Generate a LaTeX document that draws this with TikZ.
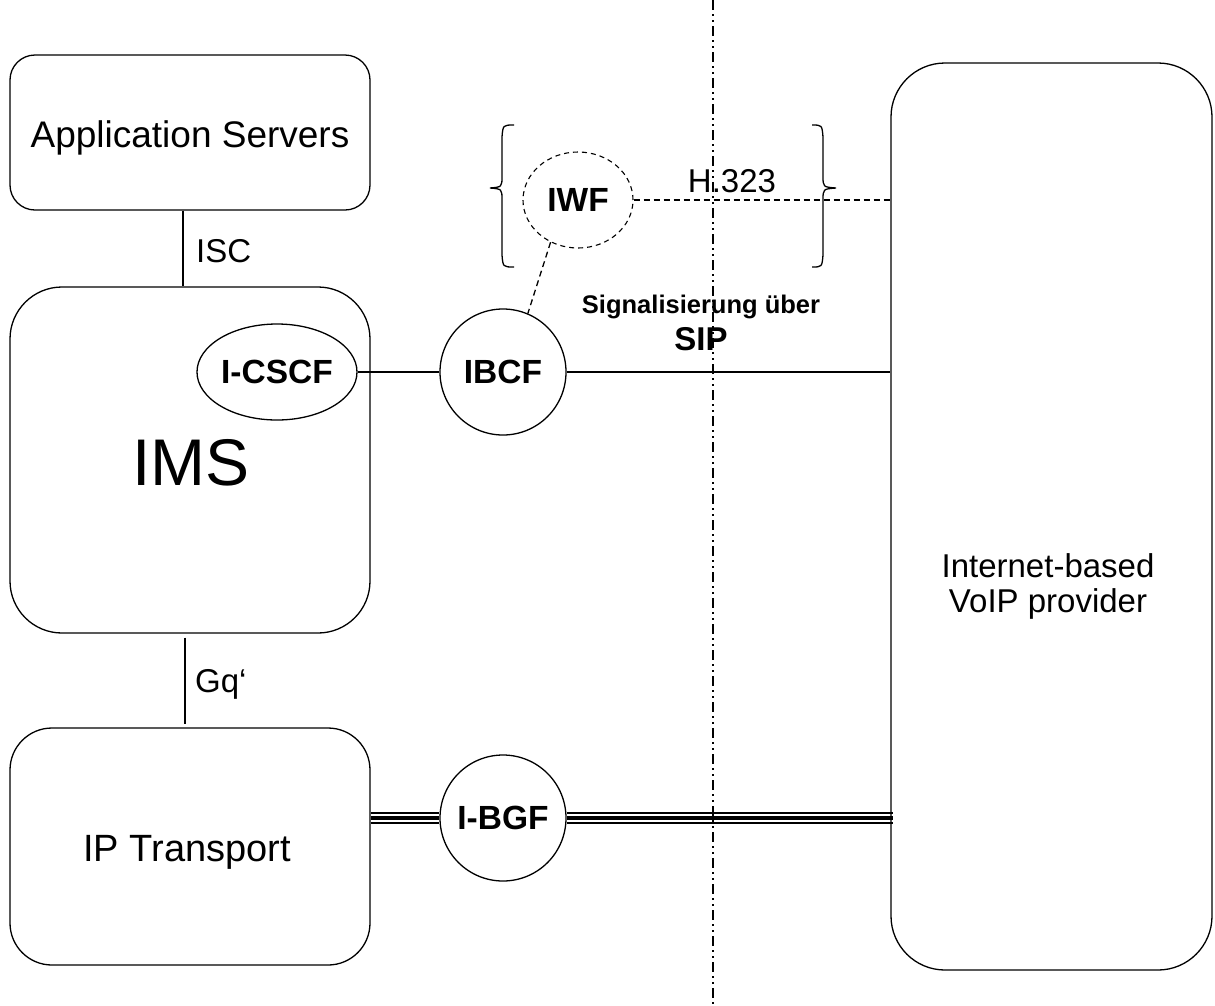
\documentclass[tikz,border=0pt]{standalone}
\usepackage{fontspec}
\setmainfont{Liberation Sans}
\usetikzlibrary{shapes.geometric,calc}
\begin{document}
\begin{tikzpicture}[x=1pt,y=-1pt,
  box/.style={draw,line width=1.3pt,rectangle,inner sep=0pt},
  circ/.style={draw,line width=1.3pt,circle,minimum size=126pt,inner sep=0pt},
  lbl/.style={font=\fontsize{33}{38}\selectfont,inner sep=0pt},
  blbl/.style={font=\fontsize{33.5}{38}\selectfont\bfseries,inner sep=0pt},
  conn/.style={line width=1.3pt},
  dconn/.style={line width=1.3pt,dash pattern=on 6pt off 4pt}]
\useasboundingbox (0,0) rectangle (1215,1005);
% boxes
\node[box,rounded corners=25pt,minimum width=360pt,minimum height=155pt] (as) at (190,132.5) {};
\node[box,rounded corners=52pt,minimum width=360pt,minimum height=346pt] (ims) at (190,460) {};
\node[box,rounded corners=42pt,minimum width=360pt,minimum height=237pt] (ipt) at (190,846.5) {};
\node[box,rounded corners=54pt,minimum width=321pt,minimum height=907pt] (voip) at (1051.5,516.5) {};
% box texts
\node[lbl,anchor=base,font=\fontsize{37}{40}\selectfont] (astxt) at (190,147) {Application Servers};
\node[lbl,anchor=base,font=\fontsize{66}{70}\selectfont] (imstxt) at (191,485) {IMS};
\node[lbl,anchor=base,font=\fontsize{38}{40}\selectfont] (ipttxt) at (187,861) {IP Transport};
\node[lbl,anchor=base,align=center] (voiptxt1) at (1048,577) {Internet-based};
\node[lbl,anchor=base,align=center] (voiptxt2) at (1048,612) {VoIP provider};
% function nodes
\node[draw,line width=1.3pt,ellipse,minimum width=160pt,minimum height=96pt,inner sep=0pt,blbl] (icscf) at (277,372) {I-CSCF};
\node[circ,blbl] (ibcf) at (503,372) {IBCF};
\node[circ,blbl] (ibgf) at (503,818) {I-BGF};
\node[draw,line width=1.1pt,dash pattern=on 5pt off 4pt,ellipse,minimum width=110pt,minimum height=96pt,inner sep=0pt,blbl] (iwf) at (578,200) {IWF};
% boundary dash-dot line
\coordinate (btop) at (713,0);
\coordinate (bbot) at (713,1005);
\draw[line width=1.1pt,dash pattern=on 10pt off 4pt on 1.5pt off 4.5pt on 1.5pt off 4.5pt] (btop) -- (bbot);
% connectors
\draw[conn] ([xshift=-7pt]as.south) -- ([xshift=-7pt]as.south |- ims.north);
\node[lbl,anchor=base west] (isc) at (196,262) {ISC};
\draw[conn] ([xshift=-5pt,yshift=-4pt]ims.south) -- ([xshift=-5pt,yshift=3pt]ims.south |- ipt.north);
\node[lbl,anchor=base west] (gq) at (195,692) {Gq‘};
\draw[conn] (icscf.east) -- (ibcf.west);
\draw[conn] (ibcf.east) -- (ibcf.east -| voip.west);
\draw[dconn] (iwf.east) -- (iwf.east -| voip.west);
\draw[dconn] (iwf.237) -- (ibcf.67);
\node[lbl,anchor=base] (h323) at (732,192) {H.323};
\node[blbl,anchor=base,font=\fontsize{25.5}{30}\selectfont\bfseries] (sig) at (701,313) {Signalisierung über};
\node[blbl,anchor=base,font=\fontsize{33}{36}\selectfont\bfseries] (sip) at (701,350) {SIP};
% triple line transport
\foreach \dy/\w in {-5/1.3pt,0/4pt,5/1.3pt}{
  \draw[line width=\w] ([yshift=\dy pt]ipt.east |- ibgf.west) -- ([yshift=\dy pt]ibgf.west);
  \draw[line width=\w] ([yshift=\dy pt]ibgf.east) -- ([xshift=3pt,yshift=\dy pt]ibgf.east -| voip.west);
}
% braces
\draw[line width=1.3pt] (514,125) .. controls (503,125) .. (502,137) -- (502,176)
  .. controls (502,187) .. (490,188) .. controls (502,189) .. (502,200) -- (502,255)
  .. controls (503,267) .. (514,267);
\draw[line width=1.3pt] (812,125) .. controls (822,125) .. (823,137) -- (823,176)
  .. controls (823,187) .. (836,188) .. controls (823,189) .. (823,200) -- (823,255)
  .. controls (822,267) .. (812,267);
\end{tikzpicture}
\end{document}
